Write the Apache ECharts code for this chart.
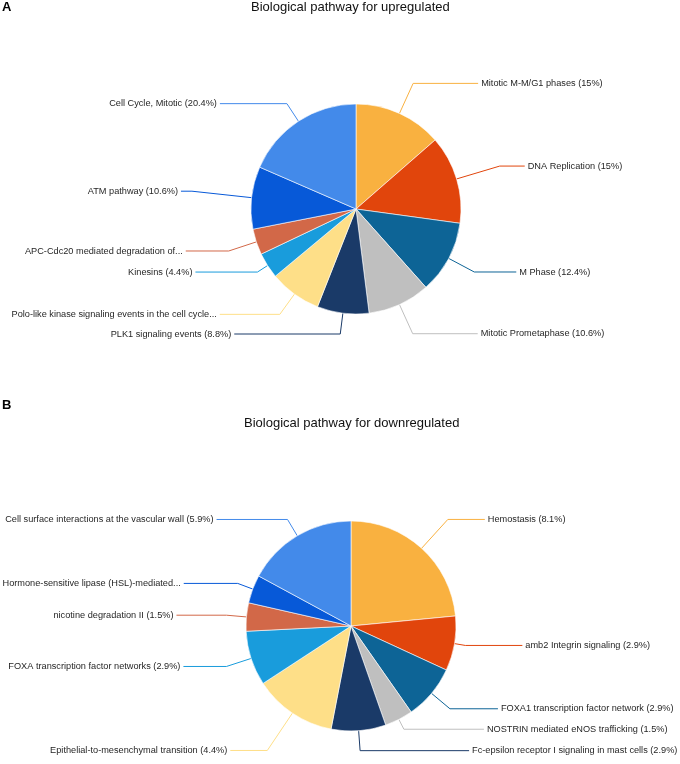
<!DOCTYPE html>
<html>
<head>
<meta charset="utf-8">
<script src="https://cdn.jsdelivr.net/npm/echarts@6/dist/echarts.min.js"></script>
<style>
  html, body { margin: 0; padding: 0; background: #fff; }
  #chart { width: 680px; height: 764px; }
</style>
</head>
<body>
<div id="chart"></div>
<script>
// upregulated pathways, clockwise from 12 o'clock
var upNames = ['Mitotic M-M/G1 phases', 'DNA Replication', 'M Phase', 'Mitotic Prometaphase',
  'PLK1 signaling events', 'Polo-like kinase signaling events in the cell cycle...', 'Kinesins',
  'APC-Cdc20 mediated degradation of...', 'ATM pathway', 'Cell Cycle, Mitotic'];
var upValues = [15, 15, 12.4, 10.6, 8.8, 8.8, 4.4, 4.4, 10.6, 20.4];
var upCut = [false, false, false, false, false, true, false, true, false, false];

// downregulated pathways, clockwise from 12 o'clock
var downNames = ['Hemostasis', 'amb2 Integrin signaling', 'FOXA1 transcription factor network',
  'NOSTRIN mediated eNOS trafficking', 'Fc-epsilon receptor I signaling in mast cells',
  'Epithelial-to-mesenchymal transition', 'FOXA transcription factor networks',
  'nicotine degradation II', 'Hormone-sensitive lipase (HSL)-mediated...',
  'Cell surface interactions at the vascular wall'];
var downValues = [8.1, 2.9, 2.9, 1.5, 2.9, 4.4, 2.9, 1.5, 1.5, 5.9];
var downCut = [false, false, false, false, false, false, false, false, true, false];

var colors = ['#F9B140', '#E1450C', '#0D6496', '#BFBFBF', '#1A3A68',
  '#FEDF88', '#199CDC', '#D26848', '#0759D8', '#438AEA'];

// leader line lengths per slice (radial part, horizontal part)
var upLen = [33, 45, 29, 32, 21, 25, 12, 29, 60, 21];
var upLen2 = [65, 25, 42, 65, 106, 60, 62, 43, 11, 67];
var downLen = [39, 11, 24, 11, 20, 45, 26, 20, 16, 19];
var downLen2 = [37, 57, 48, 80, 109, 37, 43, 50, 54, 71];

var font = '"Liberation Sans", Arial, sans-serif';

function makeData(names, values, cut, len, len2) {
  var out = [];
  for (var i = 0; i < names.length; i++) {
    out.push({
      name: names[i], value: values[i], cut: cut[i],
      labelLine: { length: len[i], length2: len2[i] }
    });
  }
  return out;
}

function labelText(p) {
  if (p.data.cut) return p.name;
  return p.name + ' (' + p.value + '%)';
}

function pieSeries(data, center) {
  return {
    type: 'pie',
    center: center,
    radius: 105,
    startAngle: 90,
    clockwise: true,
    avoidLabelOverlap: false,
    data: data,
    itemStyle: { borderColor: '#fff', borderWidth: 0.6 },
    label: {
      formatter: labelText,
      color: '#262626',
      fontSize: 9.2,
      fontFamily: font,
      overflow: 'none',
      distanceToLabelLine: 3
    },
    labelLine: {
      lineStyle: { width: 1 },
      minTurnAngle: 0
    },
    emphasis: { disabled: true }
  };
}

var chart = echarts.init(document.getElementById('chart'));
chart.setOption({
  color: colors,
  animation: false,
  title: [
    { text: 'A', left: 2, top: 1, padding: 0,
      textStyle: { fontSize: 13, fontWeight: 'bold', color: '#000', fontFamily: font } },
    { text: 'Biological pathway for upregulated', left: 251, top: 1, padding: 0,
      textStyle: { fontSize: 13, fontWeight: 'normal', color: '#111', fontFamily: font } },
    { text: 'B', left: 2, top: 399, padding: 0,
      textStyle: { fontSize: 13, fontWeight: 'bold', color: '#000', fontFamily: font } },
    { text: 'Biological pathway for downregulated', left: 244, top: 417, padding: 0,
      textStyle: { fontSize: 13, fontWeight: 'normal', color: '#111', fontFamily: font } }
  ],
  series: [
    pieSeries(makeData(upNames, upValues, upCut, upLen, upLen2), [356, 209]),
    pieSeries(makeData(downNames, downValues, downCut, downLen, downLen2), [351, 626])
  ]
});
</script>
</body>
</html>
